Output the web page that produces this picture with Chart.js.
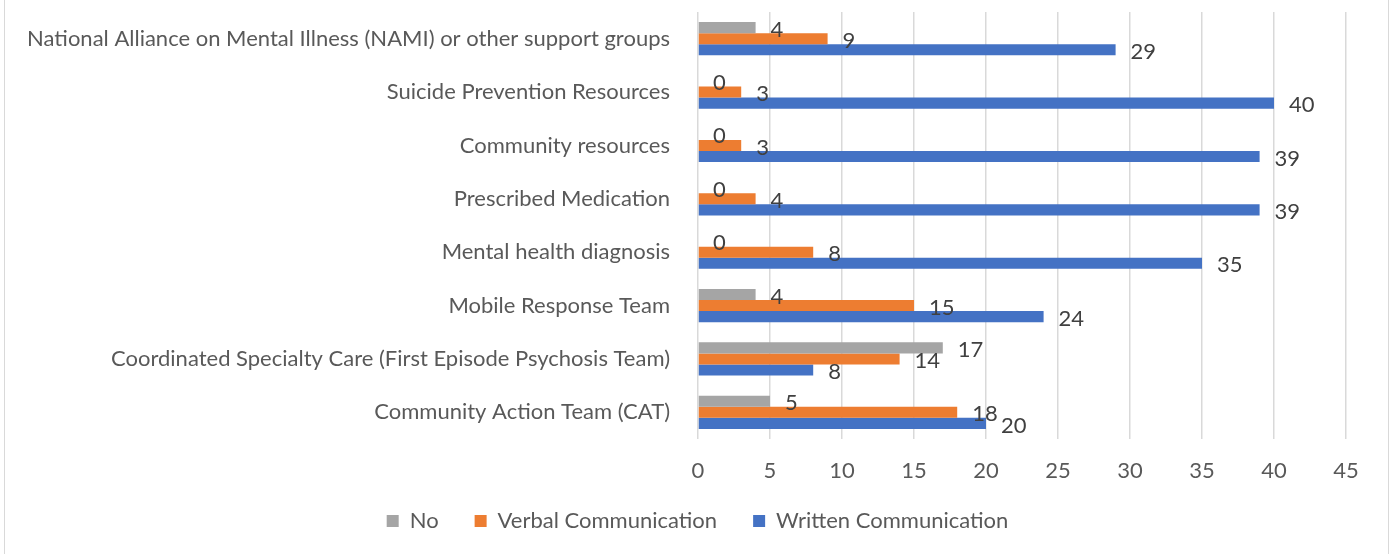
<!DOCTYPE html>
<html>
<head>
<meta charset="utf-8">
<script src="https://cdn.jsdelivr.net/npm/chart.js@4"></script>
<style>
  html, body { margin: 0; padding: 0; background: #fff; overflow: hidden; }
  #wrap { position: relative; width: 1395px; height: 554px; }
  #frame { position: absolute; left: 4px; top: -2px; width: 1385px; height: 560px; border: 1px solid #d9d9d9; box-sizing: border-box; }
  canvas { position: absolute; left: 0; top: 0; }
</style>
</head>
<body>
<div id="wrap">
  <div id="frame"></div>
  <canvas id="chart" width="1395" height="554"></canvas>
</div>
<script>
const categories = [
    "National Alliance on Mental Illness (NAMI) or other support groups",
    "Suicide Prevention Resources",
    "Community resources",
    "Prescribed Medication",
    "Mental health diagnosis",
    "Mobile Response Team",
    "Coordinated Specialty Care (First Episode Psychosis Team)",
    "Community Action Team (CAT)"
];
const noValues = [4, 0, 0, 0, 0, 4, 17, 5];
const verbalValues = [9, 3, 3, 4, 8, 15, 14, 18];
const writtenValues = [29, 40, 39, 39, 35, 24, 8, 20];
const xTicks = [0, 5, 10, 15, 20, 25, 30, 35, 40, 45];

const FONT = "Lato";
const FSIZE = 22;

// value labels drawn just past the end of each bar
const barLabels = {
    id: 'barLabels',
    afterLayout(chart) {
        // let the x tick labels spill below the (short) axis box
        chart.scales.x.bottom += 30;
    },
    afterDatasetsDraw(chart) {
        const ctx = chart.ctx;
        ctx.save();
        ctx.font = FSIZE + 'px ' + FONT;
        ctx.fillStyle = '#404040';
        ctx.textAlign = 'left';
        ctx.textBaseline = 'middle';
        chart.data.datasets.forEach((ds, i) => {
            const meta = chart.getDatasetMeta(i);
            meta.data.forEach((bar, j) => {
                ctx.fillText(String(ds.data[j]), bar.x + 15, bar.y + 2);
            });
        });
        ctx.restore();
    }
};

new Chart(document.getElementById('chart'), {
    type: 'bar',
    data: {
        labels: categories,
        datasets: [
            { label: 'No', data: noValues, backgroundColor: '#A5A5A5' },
            { label: 'Verbal Communication', data: verbalValues, backgroundColor: '#ED7D31' },
            { label: 'Written Communication', data: writtenValues, backgroundColor: '#4472C4' }
        ]
    },
    options: {
        indexAxis: 'y',
        responsive: false,
        animation: false,
        layout: { padding: { top: 12, right: 0, left: 0, bottom: 12 } },
        datasets: { bar: { barPercentage: 1, categoryPercentage: 0.625 } },
        scales: {
            x: {
                min: 0, max: 45,
                afterBuildTicks: (scale) => { scale.ticks = xTicks.map(v => ({ value: v })); },
                afterFit: (scale) => {
                    scale.height = 35;
                    scale.paddingRight = 49;
                },
                grid: { color: '#d9d9d9', lineWidth: 1.5, drawTicks: false },
                border: { display: false },
                ticks: { color: '#595959', font: { family: FONT, size: FSIZE }, padding: 19 }
            },
            y: {
                afterFit: (scale) => {
                    scale.width = 698;
                    scale.paddingTop = 0;
                    scale.paddingBottom = 0;
                },
                grid: { display: false, drawTicks: false },
                border: { display: false },
                ticks: { color: '#595959', font: { family: FONT, size: FSIZE }, padding: 28 }
            }
        },
        plugins: {
            legend: {
                position: 'bottom',
                labels: {
                    color: '#595959',
                    font: { family: FONT, size: FSIZE },
                    boxWidth: 12, boxHeight: 12,
                    padding: 36
                }
            },
            tooltip: { enabled: false }
        }
    },
    plugins: [barLabels]
});
</script>
</body>
</html>
